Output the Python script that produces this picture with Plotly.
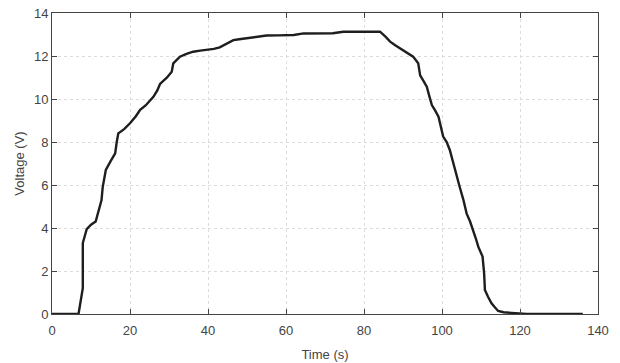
import plotly.graph_objects as go

time_s = [0, 6.8, 7.9, 7.9, 8.9, 10.0, 11.2, 12.0, 12.7, 13.0, 13.8, 15.0, 16.2, 16.6, 17.0, 18.5, 20.0, 21.5, 22.6, 24.0, 26.0,
          27.0, 27.7, 29.5, 30.7, 31.1, 32.0, 32.8, 34.5, 36.2, 38.0, 40.0, 41.5, 43.0, 44.5, 46.5, 48.0, 50.0, 52.5,
          55.0, 58.0, 62.0, 64.5, 68.0, 72.0, 74.7, 80.0, 84.1, 85.5, 86.7, 88.0, 89.2, 91.0, 92.6, 93.9, 94.4,
          95.2, 96.1, 96.8, 97.4, 98.3, 99.1, 100.3, 101.2, 102.0, 103.3, 104.4, 105.5, 106.3, 107.2, 108.0, 108.7,
          109.3, 110.4, 110.8, 111.0, 111.8, 112.7, 113.6, 114.4, 115.8, 117.4, 119.5, 121.7, 128.0, 136.1]
voltage_v = [0, 0, 1.2, 3.3, 3.95, 4.15, 4.3, 4.8, 5.3, 5.9, 6.7, 7.1, 7.47, 8.0, 8.4, 8.6, 8.87, 9.2, 9.5, 9.7, 10.1,
             10.4, 10.7, 11.0, 11.27, 11.66, 11.85, 11.97, 12.1, 12.2, 12.25, 12.28, 12.33, 12.4, 12.55, 12.74, 12.78, 12.82, 12.88,
             12.95, 12.96, 12.98, 13.05, 13.06, 13.06, 13.13, 13.13, 13.13, 12.9, 12.67, 12.5, 12.36, 12.15, 11.97, 11.66, 11.1,
             10.85, 10.57, 10.1, 9.72, 9.45, 9.18, 8.25, 8.0, 7.63, 6.7, 6.0, 5.3, 4.68, 4.3, 3.9, 3.5,
             3.13, 2.67, 1.9, 1.12, 0.8, 0.5, 0.3, 0.14, 0.08, 0.05, 0.02, 0.0, 0.0, 0.0]

x_ticks = [0, 20, 40, 60, 80, 100, 120, 140]
y_ticks = [0, 2, 4, 6, 8, 10, 12, 14]

FONT = "Liberation Sans, Arial"

fig = go.Figure()
fig.add_trace(go.Scatter(x=time_s, y=voltage_v, mode="lines",
                         line=dict(color="#1e1e1e", width=2.4), showlegend=False))

axis_common = dict(showline=True, linecolor="#444", linewidth=1, mirror="ticks",
                   ticks="inside", ticklen=5, tickcolor="#444", automargin=False,
                   showgrid=True, gridcolor="#dcdcdc", griddash="dot", gridwidth=1,
                   zeroline=False, tickfont=dict(family=FONT, size=13, color="#444"))

fig.update_xaxes(range=[0, 140], tickvals=x_ticks, ticklabelstandoff=4,
                 title=dict(text="Time (s)", font=dict(family=FONT, size=13, color="#444"), standoff=13),
                 **axis_common)
fig.update_yaxes(range=[0, 14], tickvals=y_ticks,
                 title=dict(text="Voltage (V)", font=dict(family=FONT, size=13, color="#444"), standoff=6),
                 **axis_common)

fig.update_layout(width=620, height=363, margin=dict(l=52, r=22, t=13, b=49, autoexpand=False),
                  plot_bgcolor="white", paper_bgcolor="white")

fig.write_html("out.html", config={"displayModeBar": False},
               post_script="document.body.style.margin='0';")
